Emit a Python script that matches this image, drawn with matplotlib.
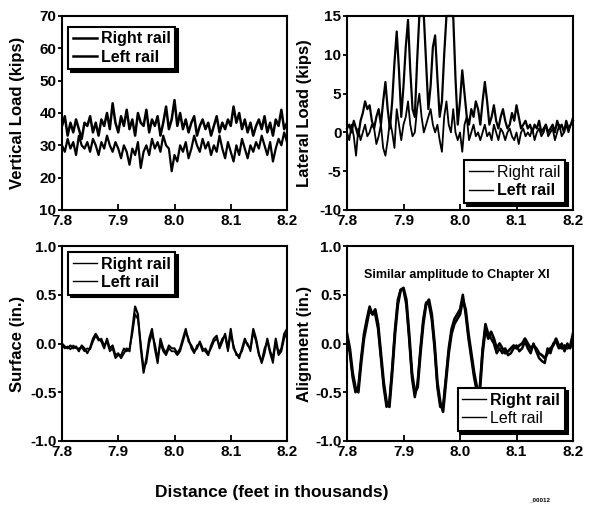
import numpy as np
import matplotlib
matplotlib.use("Agg")
import matplotlib.pyplot as plt

plt.rcParams['font.family'] = ['Liberation Sans', 'DejaVu Sans']
plt.rcParams['font.weight'] = 'bold'

# vertical load (kips), 7.800 .. 8.200 step 0.005
vert_right = [36, 39, 33, 37, 34, 38, 35, 32, 37, 36,
              39, 34, 37, 33, 38, 36, 40, 35, 43, 37,
              34, 39, 36, 41, 35, 38, 33, 40, 37, 36,
              41, 34, 38, 36, 39, 33, 37, 42, 35, 38,
              44, 36, 40, 35, 38, 34, 37, 39, 33, 36,
              38, 35, 37, 33, 36, 39, 34, 37, 35, 38,
              36, 42, 37, 40, 35, 38, 34, 37, 33, 36,
              38, 35, 39, 34, 37, 33, 38, 36, 41, 35,
              37]
vert_left = [30, 28, 32, 29, 31, 27, 33, 30, 29, 31,
             28, 32, 30, 27, 31, 29, 33, 30, 28, 31,
             29, 26, 30, 28, 24, 29, 27, 31, 23, 28,
             30, 27, 32, 29, 31, 28, 33, 30, 29, 22,
             27, 25, 30, 28, 31, 26, 29, 33, 30, 28,
             32, 29, 31, 27, 30, 28, 33, 29, 26, 31,
             28, 25, 30, 27, 32, 29, 26, 30, 28, 31,
             29, 33, 30, 27, 31, 25, 29, 32, 30, 34,
             31]

# lateral load (kips), 7.800 .. 8.200 step 0.004
lat_right = [0.5, 1, 0, 1.5, 0.5, -0.5, 1.5, 2.5, 4, 3,
             3.5, 1.5, 0.5, 2, 3, 1, 4, 6.5, 3, 0.5,
             4, 9, 13, 8, 2, 6, 11, 14.5, 8, 3,
             2, 9, 15, 15, 15, 9, 3, 6, 11, 12.5,
             7, 2, 4, 10, 15, 15, 15, 15, 7, 1,
             4, 8, 5, 2, 1, 3, 2, 4, 3, 1,
             4, 6.5, 4, 1, 2, 3.5, 1.5, 0.5, 2, 3,
             1.5, 0.5, 1, 2.5, 1.5, 3.5, 2, 0.5, 1, 1.5,
             0.5, 1, 0, 1, 0.5, 1.5, 0, 0.5, 1, 0,
             0.5, 1, 0, 1.5, 0.5, 1, 0, 1.5, 0.5, 1,
             1.5]
lat_left = [0, -1, 1, -0.5, -3, 0.5, -1, 0, 1, -0.5,
            0, 1, 0.5, -1.5, -0.5, 1, -2, -3, -1, 1.5,
            0, -2, 3, 1, -1, 1, 2, 4, 1, -0.5,
            0, 3, 5, 2, 0, 1, 2, 3, 1, 0,
            1, -1, -2.5, 2, 4, 1, 0, 3, 0, -1,
            0, -2.5, 1, 2, -1, 0, 1, -0.5, 0, -1,
            0, 1, -0.5, 0, -1, 1, 0, -1, 0.5, 0,
            -1, 0, 0.5, -0.5, -1, 0, -1.5, 0, 0.5, -0.5,
            0, -0.5, 0.5, -1, 0, 0.5, -0.5, 0, 1, -0.5,
            0, 0.5, -1, 0, 1, -0.5, 0, 1, 0, 1,
            2]

# surface (in.), step 0.005
surf_right = [0, -0.03, -0.05, -0.02, -0.05, -0.03, -0.08, -0.02, -0.05, -0.1,
              -0.04, 0.05, 0.1, 0.05, 0.02, -0.05, 0.05, -0.05, -0.02, -0.12,
              -0.1, -0.15, -0.1, -0.05, -0.08, 0.15, 0.38, 0.3, -0.05, -0.3,
              -0.15, 0.05, 0.15, -0.05, -0.2, 0.05, -0.05, -0.1, -0.02, -0.05,
              -0.05, -0.1, -0.05, 0.05, 0.15, 0.02, -0.02, -0.08, -0.05, 0.02,
              -0.05, -0.08, -0.12, -0.02, 0.05, 0.08, -0.05, 0.02, 0.1, -0.05,
              0.15, -0.05, -0.1, -0.15, -0.05, 0.05, -0.02, -0.05, 0.15, 0.05,
              -0.1, -0.2, -0.1, 0.05, -0.08, -0.15, 0.05, -0.1, -0.05, 0.1,
              0.15]
surf_left = [-0.02, -0.05, -0.03, -0.06, -0.02, -0.05, -0.05, -0.04, -0.08, -0.05,
             -0.06, 0.02, 0.08, 0.03, 0.05, -0.02, 0.02, -0.08, -0.05, -0.15,
             -0.12, -0.12, -0.05, -0.08, -0.05, 0.1, 0.3, 0.25, 0.0, -0.25,
             -0.2, 0.0, 0.1, 0.0, -0.15, 0.0, -0.08, -0.12, -0.05, -0.08,
             -0.08, -0.12, -0.08, 0.02, 0.12, 0.05, -0.05, -0.1, -0.02, 0.0,
             -0.08, -0.05, -0.1, -0.05, 0.02, 0.05, -0.02, 0.05, 0.08, -0.08,
             0.1, -0.02, -0.12, -0.12, -0.08, 0.02, 0.0, -0.08, 0.12, 0.02,
             -0.12, -0.18, -0.05, 0.02, -0.1, -0.2, 0.02, -0.12, -0.08, 0.05,
             0.12]

# alignment (in.), step 0.005
align_right = [0.1, -0.05, -0.3, -0.45, -0.5, -0.2, 0.05, 0.2, 0.35, 0.3,
               0.35, 0.2, -0.1, -0.4, -0.6, -0.65, -0.3, 0.1, 0.4, 0.55,
               0.57, 0.45, 0.1, -0.3, -0.5, -0.45, -0.1, 0.2, 0.4, 0.45,
               0.3, 0.0, -0.4, -0.6, -0.7, -0.4, -0.1, 0.1, 0.2, 0.25,
               0.3, 0.45, 0.35, 0.1, -0.1, -0.3, -0.45, -0.5, -0.1, 0.15,
               0.05, 0.12, 0.05, -0.05, 0.0, -0.05, -0.1, -0.08, -0.05, -0.02,
               -0.05, -0.02, 0.0, 0.05, 0.0, -0.05, -0.02, -0.05, -0.1, -0.12,
               -0.15, -0.1, -0.05, -0.02, 0.05, -0.02, -0.05, -0.02, -0.05, -0.03,
               0.1]
align_left = [0.05, -0.1, -0.35, -0.5, -0.45, -0.15, 0.1, 0.25, 0.38, 0.3,
              0.3, 0.15, -0.15, -0.45, -0.65, -0.6, -0.25, 0.15, 0.45, 0.55,
              0.55, 0.4, 0.05, -0.35, -0.55, -0.4, -0.05, 0.25, 0.42, 0.4,
              0.25, -0.05, -0.45, -0.65, -0.65, -0.35, -0.05, 0.15, 0.25, 0.3,
              0.35, 0.5, 0.3, 0.05, -0.15, -0.35, -0.5, -0.45, -0.05, 0.2,
              0.1, 0.05, 0.0, -0.1, -0.05, -0.1, -0.05, -0.12, -0.1, -0.05,
              -0.02, -0.08, -0.05, 0.02, -0.05, -0.1, 0.0, -0.08, -0.15, -0.18,
              -0.2, -0.05, -0.1, 0.0, 0.02, -0.05, 0.0, -0.08, 0.0, -0.05,
              0.05]

x81 = np.linspace(7.8, 8.2, len(vert_right))
x101 = np.linspace(7.8, 8.2, len(lat_right))

xticks = [7.8, 7.9, 8.0, 8.1, 8.2]
xticklabels = ["7.8", "7.9", "8.0", "8.1", "8.2"]

fig = plt.figure(figsize=(5.96, 5.05), dpi=100)
W, H = 596, 505


def make_ax(left, top, right, bottom):
    return fig.add_axes([left / W, 1 - bottom / H, (right - left) / W, (bottom - top) / H])


ax_tl = make_ax(62, 16, 287, 210)
ax_tr = make_ax(347, 16, 573, 210)
ax_bl = make_ax(62, 246, 287, 441)
ax_br = make_ax(347, 246, 573, 441)

shadow = {'facecolor': 'black', 'edgecolor': 'black', 'alpha': 1}


def style(ax, ylim, yticks, ylabels, ylabel, lx):
    ax.set_xlim(7.8, 8.2)
    ax.set_ylim(*ylim)
    ax.set_xticks(xticks)
    ax.set_xticklabels(xticklabels)
    ax.set_yticks(yticks)
    ax.set_yticklabels(ylabels)
    ax.tick_params(axis='y', direction='out', length=3, width=1.3, labelsize=11, pad=1)
    ax.tick_params(axis='x', direction='in', length=4, width=1.3, labelsize=11, pad=3)
    for s in ax.spines.values():
        s.set_linewidth(1.5)
    ax.set_ylabel(ylabel, fontsize=12, fontweight='bold', va='center')
    ax.yaxis.set_label_coords(lx, 0.5)


def legend(ax, loc, anchor, weights, lw):
    leg = ax.legend(loc=loc, bbox_to_anchor=anchor, fancybox=False, shadow=shadow,
                    framealpha=1, edgecolor='black', fontsize=11.5, handlelength=1.5,
                    handletextpad=0.25, borderpad=0.3, labelspacing=0.2,
                    borderaxespad=0)
    leg.get_frame().set_linewidth(1.5)
    for t, w in zip(leg.get_texts(), weights):
        t.set_fontweight(w)
    for h in leg.get_lines():
        h.set_linewidth(lw)


ax_tl.plot(x81, vert_right, color='black', lw=1.8, label='Right rail')
ax_tl.plot(x81, vert_left, color='black', lw=1.6, label='Left rail')
style(ax_tl, (10, 70), [10, 20, 30, 40, 50, 60, 70],
      ["10", "20", "30", "40", "50", "60", "70"], "Vertical Load (kips)", -0.196)
legend(ax_tl, 'upper left', (0.027, 0.945), ['bold', 'bold'], 1.8)

ax_tr.plot(x101, lat_right, color='black', lw=1.6, label='Right rail', clip_on=False)
ax_tr.plot(x101, lat_left, color='black', lw=1.3, label='Left rail')
style(ax_tr, (-10, 15), [-10, -5, 0, 5, 10, 15],
      ["-10", "-5", "0", "5", "10", "15"], "Lateral Load (kips)", -0.186)
legend(ax_tr, 'lower right', (0.965, 0.036), ['normal', 'bold'], 1.0)

ax_bl.plot(x81, surf_right, color='black', lw=1.5, label='Right rail')
ax_bl.plot(x81, surf_left, color='black', lw=1.3, label='Left rail')
style(ax_bl, (-1, 1), [-1, -0.5, 0, 0.5, 1],
      ["-1.0", "-0.5", "0.0", "0.5", "1.0"], "Surface (in.)", -0.196)
legend(ax_bl, 'upper left', (0.027, 0.97), ['bold', 'bold'], 1.0)

ax_br.plot(x81, align_right, color='black', lw=2.0, label='Right rail')
ax_br.plot(x81, align_left, color='black', lw=1.8, label='Left rail')
style(ax_br, (-1, 1), [-1, -0.5, 0, 0.5, 1],
      ["-1.0", "-0.5", "0.0", "0.5", "1.0"], "Alignment (in.)", -0.186)
legend(ax_br, 'lower right', (0.965, 0.052), ['bold', 'normal'], 1.0)
ax_br.text(0.487, 0.85, "Similar amplitude to Chapter XI", transform=ax_br.transAxes,
           ha='center', va='center', fontsize=9, fontweight='bold')

fig.text(272 / W, 1 - 493 / H, "Distance (feet in thousands)", ha='center', va='center',
         fontsize=12.5, fontweight='bold')
fig.text(540 / W, 1 - 500 / H, "_00012", ha='center', va='center', fontsize=4.5,
         fontweight='bold')

fig.savefig("out.png", dpi=100)
